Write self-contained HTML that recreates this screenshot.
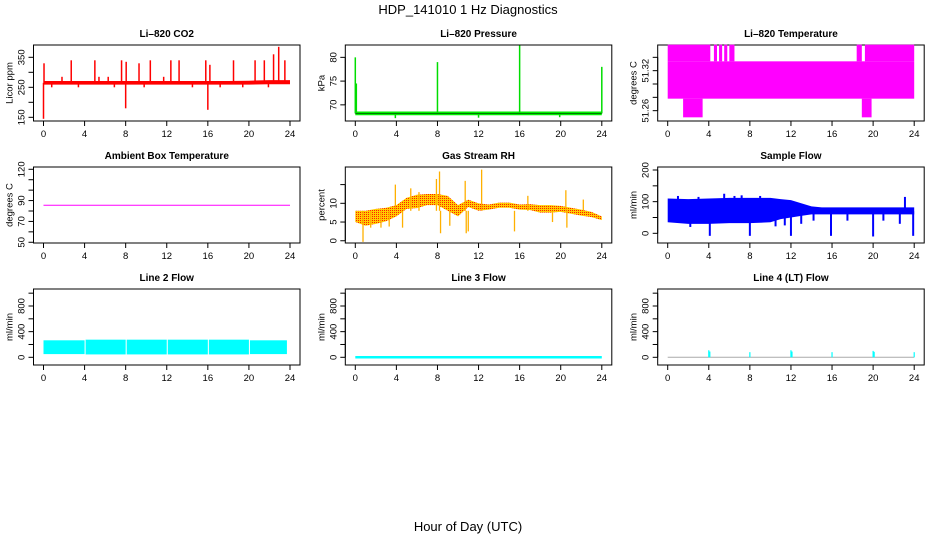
<!DOCTYPE html>
<html><head><meta charset="utf-8">
<style>
body{margin:0;background:#fff}
svg{display:block;font-family:"Liberation Sans",Arial,sans-serif}
</style></head>
<body>
<svg id="chart" width="936" height="540" viewBox="0 0 936 540" xmlns="http://www.w3.org/2000/svg">
<defs>
<pattern id="rhpat" width="2" height="2" patternUnits="userSpaceOnUse">
<rect width="2" height="2" fill="#ffcc00"/><rect width="1" height="1" fill="#ff2000"/>
</pattern>
</defs>
<text x="468" y="14" font-size="13" text-anchor="middle">HDP_141010  1 Hz Diagnostics</text>
<text x="468" y="531" font-size="13" text-anchor="middle">Hour of Day (UTC)</text>
</svg>
<script>
// ---- data ----
const xTicks = [0,4,8,12,16,20,24];
const co2Hours = [0,2,4,6,8,10,12,14,16,18,20,22,24];
const co2Lo = [259,259,259,259,259,259,259,259,259,259,259,260,260];
const co2Hi = [271,271,271,271,271,271,271,271,271,271,272,274,274];
const co2SpikeHours = [0,0.05,1.8,2.7,5,5.4,6.3,7.6,8,8.05,9.3,10.4,11.7,12.4,13.2,15.8,16,16.2,18.5,20.6,21.5,22.4,22.9,23.5,0.8,3.4,6.9,9.8,14.5,17.2,19.4,21.9];
const co2SpikeVals = [145,330,285,340,340,285,285,340,180,335,330,340,285,340,340,340,175,325,340,340,340,360,385,340,250,250,250,250,250,250,250,250];
const presHours = [0,24];
const presLo = [67.8,67.8];
const presHi = [68.6,68.6];
const presSpikeHours = [0,0.1,8,16,24,3.9,12,19.9];
const presSpikeVals = [80,74.5,79,82.5,78,67.2,67.3,67.4];
const tempSegStart = [0,0,4.5,5,5.5,6,18.4,19.2,1.5,18.9];
const tempSegEnd = [24,4.15,4.8,5.3,5.8,6.5,18.9,24,3.4,19.85];
const tempSegLo = [51.278,51.334,51.334,51.334,51.334,51.334,51.334,51.334,51.25,51.25];
const tempSegHi = [51.334,51.359,51.359,51.359,51.359,51.359,51.359,51.359,51.278,51.278];
const ambHours = [0,24];
const ambVals = [85.5,85.5];
const rhHours = [0,1,2,3,4,5,6,7,8,9,10,11,12,13,14,15,16,17,18,19,20,21,22,23,24];
const rhLo = [5,4,4.5,5.2,6.5,8.5,8.7,9.5,9.5,8,6.5,9,8,8.3,8.8,8.8,8.3,8.2,7.5,7.5,7.7,7.2,6.7,6.3,5.5];
const rhHi = [8,8,8.5,8.8,9.5,11.5,12.3,12.5,12.5,12,9.5,11,10,9.7,10.2,10.2,9.7,9.8,9.5,9.5,9.3,8.8,8.3,7.7,6.5];
const rhSpikeHours = [0.75,3.9,4.6,5.4,7.9,8.2,8.3,10.7,10.8,11,12.3,15.5,16.8,20.5,20.6,22.2,19.2,1.5,2.5,3.3,6.2,9.2];
const rhSpikeVals = [-0.3,15,3.5,14,16.5,18.5,2,16,2,2.5,19,2.5,12,13.5,3.5,11,5,3.5,3.5,3.8,13,4];
const flowHours = [0,2,4,6,8,10,11,12,13,14,15,16,18,20,22,24];
const flowLo = [35,30,30,32,32,35,45,50,55,60,60,60,60,60,60,60];
const flowHi = [110,108,110,112,112,112,108,105,95,85,82,82,82,82,82,82];
const flowSpikeHours = [4.1,8,12,15.9,20,23.9,5.5,23.1,2.2,10.5,1,3,6.5,7.2,9,11.4,13,14.2,17.5,21,22.6];
const flowSpikeVals = [-8,-8,-8,-8,-10,-8,125,115,20,22,118,115,118,120,118,25,30,40,40,40,30];
const l2SegStart = [0,4.1,8.1,12.1,16.1,20.1];
const l2SegEnd = [4.0,8.0,12.0,16.0,20.0,23.7];
const l2Lo = [50,45,45,45,45,50];
const l2Hi = [265,275,275,275,275,265];
const l3Hours = [0,24];
const l3Vals = [0,0];
const l4Hours = [0,24];
const l4Vals = [0,0];
const l4SpikeHours = [4,4.1,8,12,12.1,16,20,20.1,24];
const l4SpikeVals = [110,90,80,110,90,80,100,85,80];

// ---- layout ----
const NS = "http://www.w3.org/2000/svg";
const svg = document.getElementById('chart');
const colX0 = [43.5,355.3,667.7];
const rowTop = [45,167,289];
const PW = 246.5, BH = 76;
function mk(tag, attrs, parent){const e=document.createElementNS(NS,tag);for(const k in attrs)e.setAttribute(k,attrs[k]);(parent||svg).appendChild(e);return e;}

function panel(c, r, title, ymin, ymax, yticks, ylabels, ytitle, key){
  const g = mk('g',{});
  
  
  const x0 = colX0[c], top = rowTop[r], bot = top+BH;
  const sx = h => x0 + h/24*PW;
  const sy = v => bot - (v-ymin)/(ymax-ymin)*BH;
  const t = mk('text',{x:x0+PW/2,y:top-8,'font-size':10,'font-weight':'bold','text-anchor':'middle'},g);
  t.textContent = title;
  
  
  const box = mk('rect',{x:x0-10,y:top,width:PW+20,height:BH,fill:'none',stroke:'#000','stroke-width':1},g);
  
  
  const xa = mk('g',{},g);
  
  
  mk('line',{x1:sx(0),x2:sx(24),y1:bot,y2:bot,stroke:'#000'},xa);
  xTicks.forEach(h=>{
    mk('line',{x1:sx(h),x2:sx(h),y1:bot,y2:bot+5,stroke:'#000'},xa);
    const l=mk('text',{x:sx(h),y:bot+16,'font-size':9.5,'text-anchor':'middle'},xa);
    l.textContent=h;
  });
  const ya = mk('g',{},g);
  
  
  const lx = x0-10;
  mk('line',{x1:lx,x2:lx,y1:sy(yticks[0]),y2:sy(yticks[yticks.length-1]),stroke:'#000'},ya);
  yticks.forEach(v=>{ mk('line',{x1:lx-5,x2:lx,y1:sy(v),y2:sy(v),stroke:'#000'},ya); });
  ylabels.forEach(v=>{
    const yy=sy(v);
    const l=mk('text',{x:lx-9,y:yy,'font-size':9.5,'text-anchor':'middle',transform:`rotate(-90 ${lx-9} ${yy})`},ya);
    l.textContent=v;
  });
  const yt=mk('text',{x:x0-31,y:top+BH/2,'font-size':9.5,'text-anchor':'middle',transform:`rotate(-90 ${x0-31} ${top+BH/2})`},g);
  yt.textContent=ytitle;
  
  
  const d = mk('g',{},g);
  
  
  return {sx,sy,d};
}
function band(p, hours, lo, hi, fill){
  let pts=hours.map((h,i)=>p.sx(h)+','+p.sy(hi[i]));
  for(let i=hours.length-1;i>=0;i--) pts.push(p.sx(hours[i])+','+p.sy(lo[i]));
  const e=mk('polygon',{points:pts.join(' '),fill:fill},p.d);
  
  
}
function segs(p, st, en, lo, hi, fill){
  st.forEach((s,i)=>{
    const e=mk('rect',{x:p.sx(s),y:p.sy(hi[i]),width:Math.max(1,p.sx(en[i])-p.sx(s)),height:p.sy(lo[i])-p.sy(hi[i]),fill:fill},p.d);
    
    
  });
}
function spikes(p, hours, vals, base, color, w){
  hours.forEach((h,i)=>{
    const e=mk('line',{x1:p.sx(h),x2:p.sx(h),y1:p.sy(base),y2:p.sy(vals[i]),stroke:color,'stroke-width':w||1.2},p.d);
    
    
  });
}
function line(p, hours, vals, color, w){
  const e=mk('polyline',{points:hours.map((h,i)=>p.sx(h)+','+p.sy(vals[i])).join(' '),fill:'none',stroke:color,'stroke-width':w},p.d);
  
  
}

// CO2
let p = panel(0,0,'Li\u2013820 CO2',137.7,391,[150,200,250,300,350],[150,250,350],'Licor ppm','co2');
band(p,co2Hours,co2Lo,co2Hi,'#ff0000');
spikes(p,co2SpikeHours,co2SpikeVals,265,'#ff0000',1.5);
// Pressure
p = panel(1,0,'Li\u2013820 Pressure',66.6,82.6,[70,75,80],[70,75,80],'kPa','pressure');
band(p,presHours,presLo,presHi,'#00ee00');
spikes(p,presSpikeHours,presSpikeVals,68.2,'#00dd00',1.5);
line(p,presHours,[68.2,68.2],'#000',0.5);
// Temperature
p = panel(2,0,'Li\u2013820 Temperature',51.2445,51.3585,[51.26,51.28,51.30,51.32,51.34],[51.26,51.32],'degrees C','li820-temp');
segs(p,tempSegStart,tempSegEnd,tempSegLo,tempSegHi,'#ff00ff');
// Ambient
p = panel(0,1,'Ambient Box Temperature',49.3,122.2,[50,60,70,80,90,100,110,120],[50,70,90,120],'degrees C','ambient-temp');
line(p,ambHours,ambVals,'#ff00ff',1);
// RH
p = panel(1,1,'Gas Stream RH',-0.6,19.7,[0,5,10,15],[0,5,10],'percent','rh');
band(p,rhHours,rhLo,rhHi,'url(#rhpat)');
spikes(p,rhSpikeHours,rhSpikeVals,8,'#ffb000',1.3);
// Sample flow
p = panel(2,1,'Sample Flow',-30.6,209.5,[0,50,100,150,200],[0,100,200],'ml/min','sample-flow');
band(p,flowHours,flowLo,flowHi,'#0000ff');
spikes(p,flowSpikeHours,flowSpikeVals,70,'#0000ff',2);
// Line 2
p = panel(0,2,'Line 2 Flow',-120,1065,[0,200,400,600,800,1000],[0,400,800],'ml/min','line2-flow');
segs(p,l2SegStart,l2SegEnd,l2Lo,l2Hi,'#00ffff');
// Line 3
p = panel(1,2,'Line 3 Flow',-120,1065,[0,200,400,600,800,1000],[0,400,800],'ml/min','line3-flow');
line(p,l3Hours,l3Vals,'#00ffff',2.5);
// Line 4
p = panel(2,2,'Line 4 (LT) Flow',-120,1065,[0,200,400,600,800,1000],[0,400,800],'ml/min','line4-flow');
line(p,l4Hours,l4Vals,'#aaaaaa',1);
spikes(p,l4SpikeHours,l4SpikeVals,0,'#00ffff',1.2);
</script>
</body></html>
